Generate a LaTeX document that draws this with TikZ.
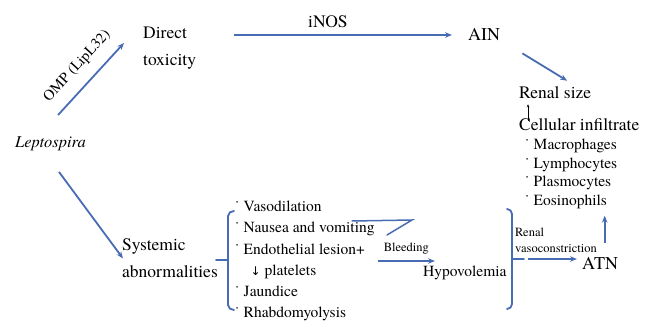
\documentclass[tikz,border=0pt]{standalone}
\usepackage{fontspec}
\setmainfont{TeX Gyre Termes}
\newfontfamily\symfont{DejaVu Sans}
\usetikzlibrary{arrows.meta,calc,positioning}

\definecolor{lineblue}{RGB}{72,108,180}

\tikzset{
	txt/.style={inner sep=0pt, font=\fontsize{17.5}{27}\selectfont, align=left},
	itemtxt/.style={inner sep=0pt, font=\fontsize{15.5}{21.2}\selectfont, align=left},
	smalltxt/.style={inner sep=0pt, font=\fontsize{12.5}{16}\selectfont, align=left},
	flow/.style={draw=lineblue, line width=1.8pt, -{Stealth[length=7pt,width=5.5pt]}},
	thinflow/.style={draw=black, line width=0.6pt, -{Stealth[length=3pt,width=2.5pt]}},
	brace/.style={draw=lineblue, line width=1.8pt, line cap=round}
}

\begin{document}
\begin{tikzpicture}[x=1pt,y=-1pt]
	\useasboundingbox (0,0) rectangle (653,323);

	% nodes
	\node[txt, anchor=west, font=\fontsize{16.5}{20}\selectfont]	(lepto)	at (15,144)	{\textit{Leptospira}};
	\node[txt, anchor=west]		(direct)	at (143,48.5)	{Direct\\toxicity};
	\node[txt, anchor=west]		(systemic)	at (122,258.5)	{Systemic\\abnormalities};
	\node[txt, anchor=west, font=\fontsize{18}{20}\selectfont]	(ain)	at (468,35)	{AIN};
	\node[txt, anchor=west]		(renal)		at (519,93)		{Renal size};
	\node[txt, anchor=west]		(cellular)	at (519,125)	{Cellular infiltrate};
	\node[itemtxt, anchor=west, font=\fontsize{15.5}{18.7}\selectfont]	(cells)	at (524.5,174)
		{˙ Macrophages\\˙ Lymphocytes\\˙ Plasmocytes\\˙ Eosinophils};
	\node[itemtxt, anchor=west]	(symptoms)	at (234.5,261)
		{˙ Vasodilation\\˙ Nausea and vomiting\\˙ Endothelial lesion+\\\hspace{16pt}{\symfont\fontsize{12}{14}\selectfont ↓} platelets\\˙ Jaundice\\˙ Rhabdomyolysis};
	\node[itemtxt, anchor=west]	(hypo)		at (423,273)	{Hypovolemia};
	\node[smalltxt, anchor=west]	(vaso)	at (515,240)	{Renal\\vasoconstriction};
	\node[txt, anchor=west, font=\fontsize{18}{20}\selectfont]	(atn)	at (582,264)	{ATN};

	% brackets
	\draw[brace] (234,211) to[out=180,in=90] (228,216) -- (228,305) to[out=-90,in=180] (234,310);
	\draw[brace] (216,260) -- (228,260);
	\draw[brace] (507,209) to[out=0,in=90] (512,214) -- (512,304) to[out=-90,in=0] (507,309);
	\coordinate (rtick) at (524,259);
	\draw[brace] (512,259) -- (rtick);
	\draw[brace, line width=1.5pt] (352,221) -- (412,220) -- (387,235);

	% connectors
	\draw[flow] ([shift={(7.5,-21.7)}]lepto.north) -- ([shift={(-19,-5.5)}]direct.west)
		node[midway, sloped, above=11pt, inner sep=0pt, font=\fontsize{15}{17}\selectfont] {OMP (LipL32)};
	\draw[flow] ([shift={(8.5,20.7)}]lepto.south) -- ([shift={(1,0)}]systemic.west);
	\draw[flow] ([xshift=38]direct.east |- ain.west) -- ([xshift=-16]ain.west)
		node[pos=0.43, above=6pt, inner sep=0pt, font=\fontsize{17.5}{20}\selectfont] {iNOS};
	\draw[flow] ([shift={(22,12)}]ain.south east) -- ([shift={(12,-6)}]renal.north);
	\draw[thinflow] ([shift={(9,2)}]cellular.north west) -- ([shift={(9,5)}]renal.south west);
	\draw[flow] ([xshift=3]symptoms.east) -- ([shift={(12,-12)}]hypo.west)
		node[midway, above=6pt, inner sep=0pt, font=\fontsize{12.5}{15}\selectfont] {Bleeding};
	\draw[flow] ([xshift=4]rtick) -- ([shift={(-5,-5)}]atn.west);
	\draw[flow] ([shift={(4.5,-15)}]atn.north) -- ([shift={(4.5,-42)}]atn.north);
\end{tikzpicture}
\end{document}
